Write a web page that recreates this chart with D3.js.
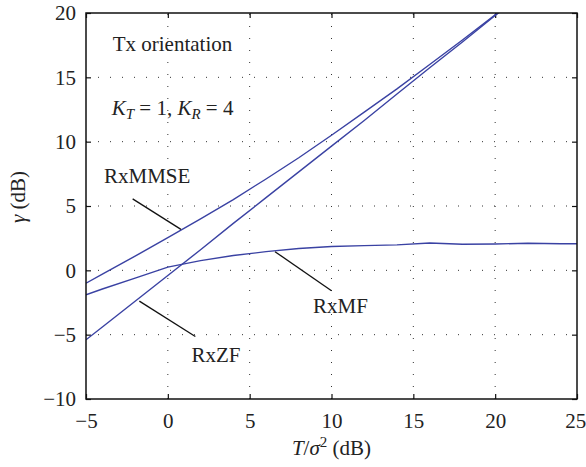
<!DOCTYPE html>
<html><head><meta charset="utf-8">
<script src="https://cdn.jsdelivr.net/npm/d3@7"></script>
<style>body{margin:0;background:#fff}svg{display:block}svg text{font-family:"Liberation Serif","DejaVu Serif",serif !important;fill:#222}</style>
</head><body><div id="c"></div>
<script>
const snr = [-5,-4,-2,0,2,4,6,8,10,12,14,16,18,20,22];
const rxMMSE = [-1.0,-0.3,1.1,2.55,4.0,5.5,7.1,8.75,10.5,12.3,14.1,16.0,17.9,19.85,21.8];
const rxZF = [-5.4,-4.4,-2.4,-0.4,1.6,3.65,5.65,7.65,9.65,11.65,13.7,15.75,17.75,19.8,21.8];
const snrMF = [-5,-4,-2,0,2,4,6,8,10,12,14,16,18,20,22,24,25];
const rxMF = [-1.9,-1.45,-0.6,0.25,0.75,1.15,1.45,1.7,1.85,1.92,1.98,2.12,2.03,2.05,2.1,2.07,2.07];
const xTicks = [-5,0,5,10,15,20,25];
const yTicks = [-10,-5,0,5,10,15,20];
const labels = [
  {text:"RxMMSE", x:-3.9, y:6.75, lx1:-2.15, ly1:5.55, lx2:0.80, ly2:3.18},
  {text:"RxZF", x:1.44, y:-7.1, lx1:-1.74, ly1:-2.39, lx2:1.68, ly2:-5.14},
  {text:"RxMF", x:8.87, y:-3.34, lx1:6.55, ly1:1.45, lx2:10.0, ly2:-1.59}
];

const FF='"Liberation Serif","DejaVu Serif",serif', FS="21px";
const W=586,H=467, m={l:86,r:9,t:13,b:68};
const svg=d3.select("#c").append("svg").attr("width",W).attr("height",H).attr("font-family",FF);
const x=d3.scaleLinear().domain([-5,25]).range([m.l,W-m.r]);
const y=d3.scaleLinear().domain([-10,20]).range([H-m.b,m.t]);
const X0=x.range()[0],X1=x.range()[1],Y0=y.range()[0],Y1=y.range()[1];
const fmt=d=>d<0?"\u2212"+Math.abs(d):String(d);

svg.append("defs").append("clipPath").attr("id","clip").append("rect")
  .attr("x",X0).attr("y",Y1).attr("width",X1-X0).attr("height",Y0-Y1);

// grid
const g=svg.append("g");
g.selectAll(".gx").data(xTicks.slice(1,-1)).enter().append("line")
  .attr("x1",d=>x(d)).attr("x2",d=>x(d)).attr("y1",Y0).attr("y2",Y1)
  .attr("stroke","#333").attr("stroke-width",1).attr("stroke-dasharray","1,11");
g.selectAll(".gy").data(yTicks.slice(1,-1)).enter().append("line")
  .attr("y1",d=>y(d)).attr("y2",d=>y(d)).attr("x1",X0).attr("x2",X1)
  .attr("stroke","#333").attr("stroke-width",1).attr("stroke-dasharray","1,11");

// axes with inward ticks
const ax=svg.append("g").attr("transform",`translate(0,${Y0})`)
  .call(d3.axisBottom(x).tickValues(xTicks).tickSize(-5).tickPadding(14).tickFormat(fmt));
const ay=svg.append("g").attr("transform",`translate(${X0},0)`)
  .call(d3.axisLeft(y).tickValues(yTicks).tickSize(-5).tickPadding(10).tickFormat(fmt));
const at=svg.append("g").attr("transform",`translate(0,${Y1})`)
  .call(d3.axisTop(x).tickValues(xTicks).tickSize(-5).tickFormat(""));
const ar=svg.append("g").attr("transform",`translate(${X1},0)`)
  .call(d3.axisRight(y).tickValues(yTicks).tickSize(-5).tickFormat(""));
[ax,ay,at,ar].forEach(a=>{
  a.attr("font-family",FF).attr("font-size",21);
  a.select(".domain").remove();
  a.selectAll(".tick line").attr("stroke","#111").attr("stroke-width",1.2);
  a.selectAll(".tick text").style("font-size",FS).style("font-family",FF).attr("fill","#222");
});
ax.selectAll(".tick text").attr("dy","0.71em").attr("dx",d=>d===25?-1.8:0);

// lines
const line=(xs)=>d3.line().x((d,i)=>x(xs[i])).y(d=>y(d));
const lg=svg.append("g").attr("clip-path","url(#clip)");
[[snr,rxMMSE],[snr,rxZF],[snrMF,rxMF]].forEach(([xs,ys])=>{
  lg.append("path").datum(ys).attr("d",line(xs)).attr("fill","none")
    .attr("stroke","#3a42a3").attr("stroke-width",1.4);
});

// box
svg.append("rect").attr("x",X0).attr("y",Y1).attr("width",X1-X0).attr("height",Y0-Y1)
  .attr("fill","none").attr("stroke","#111").attr("stroke-width",1.5);

// annotations
const T=(sel)=>sel.style("font-size",FS).style("font-family",FF);
labels.forEach(l=>{
  svg.append("line").attr("x1",x(l.lx1)).attr("y1",y(l.ly1)).attr("x2",x(l.lx2)).attr("y2",y(l.ly2))
    .attr("stroke","#111").attr("stroke-width",1.3);
  T(svg.append("text").attr("x",x(l.x)).attr("y",y(l.y))).text(l.text);
});
T(svg.append("text").attr("x",x(-3.37)).attr("y",y(17.04))).text("Tx orientation");
const kt=T(svg.append("text").attr("x",x(-3.43)).attr("y",y(12.07)));
kt.append("tspan").attr("font-style","italic").text("K");
kt.append("tspan").attr("font-style","italic").style("font-size","15px").attr("dy",4).text("T");
kt.append("tspan").attr("dy",-4).text(" = 1, ");
kt.append("tspan").attr("font-style","italic").text("K");
kt.append("tspan").attr("font-style","italic").style("font-size","15px").attr("dy",4).text("R");
kt.append("tspan").attr("dy",-4).text(" = 4");

// axis titles
const xl=T(svg.append("text").attr("x",(X0+X1)/2).attr("y",455).attr("text-anchor","middle"));
xl.append("tspan").attr("font-style","italic").text("T");
xl.append("tspan").text("/");
xl.append("tspan").attr("font-style","italic").text("σ");
xl.append("tspan").style("font-size","15px").attr("dy",-8).text("2");
xl.append("tspan").attr("dy",8).text(" (dB)");
const yl=T(svg.append("text").attr("transform",`translate(25,197) rotate(-90)`).attr("text-anchor","middle"));
yl.append("tspan").attr("font-style","italic").text("γ");
yl.append("tspan").text(" (dB)");
</script></body></html>
